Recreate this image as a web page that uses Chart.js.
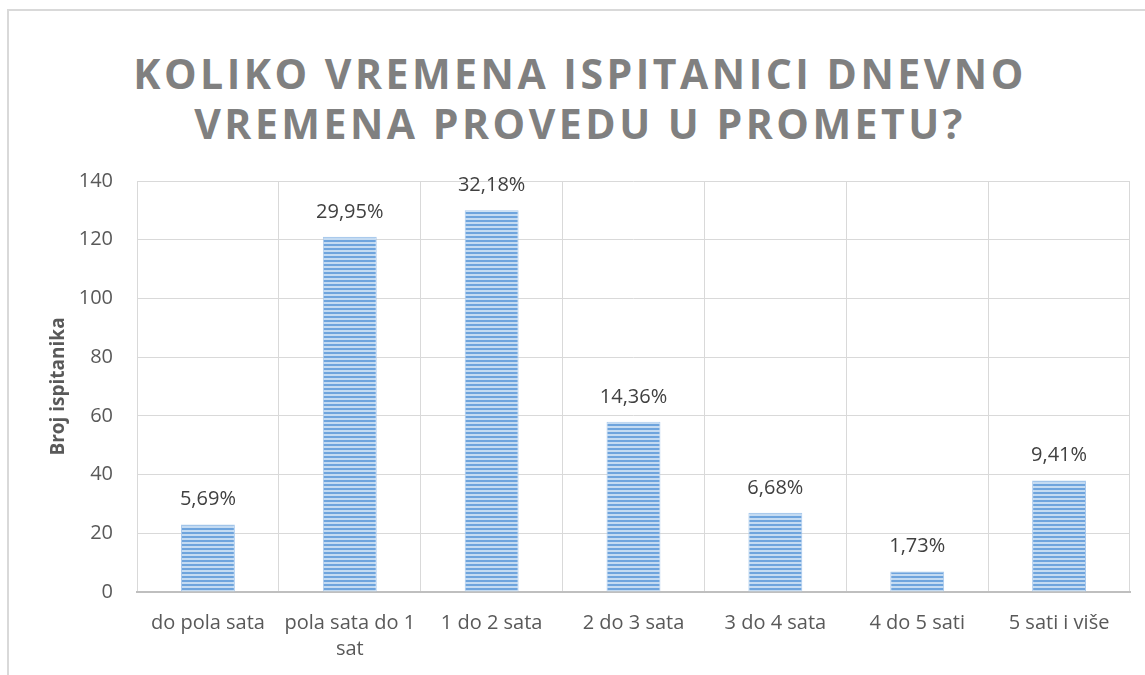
<!DOCTYPE html>
<html lang="hr">
<head>
    <meta charset="UTF-8">
    <title>Koliko vremena ispitanici dnevno vremena provedu u prometu?</title>
    <script src="https://cdn.jsdelivr.net/npm/chart.js@4.4.1/dist/chart.umd.min.js"></script>
    <style>
        html, body { margin: 0; padding: 0; background: #fff; overflow: hidden; }
        .wrap { position: relative; width: 1145px; height: 675px; }
        .frame {
            position: absolute; left: 7px; top: 9px; width: 1200px; height: 700px;
            border: 2px solid #d9d9d9; box-sizing: border-box;
        }
        .chart-title {
            position: absolute; left: 0; top: 48px; width: 1160px; text-align: center;
            font-family: "Open Sans", sans-serif; font-weight: 700; font-size: 41px;
            letter-spacing: 3.5px; line-height: 50px; color: #808080;
        }
        canvas { position: absolute; left: 0; top: 0; }
    </style>
</head>
<body>
<div class="wrap">
    <div class="frame"></div>
    <div class="chart-title">KOLIKO VREMENA ISPITANICI DNEVNO<br>VREMENA PROVEDU U PROMETU?</div>
    <canvas id="chart" width="1145" height="675"></canvas>
</div>
<script>
    // data
    const categories = ['do pola sata', ['pola sata do 1', 'sat'], '1 do 2 sata', '2 do 3 sata', '3 do 4 sata', '4 do 5 sati', '5 sati i više'];
    const respondents = [23, 121, 130, 58, 27, 7, 38];
    const shareLabels = ['5,69%', '29,95%', '32,18%', '14,36%', '6,68%', '1,73%', '9,41%'];
    const yTicks = [0, 20, 40, 60, 80, 100, 120, 140];

    // striped fill like the office chart
    function stripePattern() {
        const c = document.createElement('canvas');
        c.width = 8; c.height = 4;
        const g = c.getContext('2d');
        g.fillStyle = '#c4dbf2';
        g.fillRect(0, 0, 8, 4);
        g.fillStyle = '#6ea4dd';
        g.fillRect(0, 0, 8, 2);
        return g.createPattern(c, 'repeat');
    }

    const valueLabels = {
        id: 'valueLabels',
        afterDatasetsDraw(chart) {
            const ctx = chart.ctx;
            const meta = chart.getDatasetMeta(0);
            ctx.save();
            ctx.font = '20px "Open Sans", sans-serif';
            ctx.fillStyle = '#404040';
            ctx.textAlign = 'center';
            ctx.textBaseline = 'alphabetic';
            meta.data.forEach((bar, i) => {
                ctx.fillText(shareLabels[i], bar.x, bar.y - 19);
            });
            ctx.restore();
        }
    };

    Chart.defaults.font.family = '"Open Sans", sans-serif';
    Chart.defaults.color = '#595959';

    new Chart(document.getElementById('chart'), {
        type: 'bar',
        data: {
            labels: categories,
            datasets: [{
                data: respondents,
                backgroundColor: stripePattern(),
                borderColor: '#a9c9ec',
                borderWidth: 1,
                categoryPercentage: 1,
                barPercentage: 0.38
            }]
        },
        options: {
            responsive: false,
            animation: false,
            layout: { padding: { top: 181, right: 15, left: 43, bottom: 0 } },
            plugins: {
                legend: { display: false },
                tooltip: { enabled: false }
            },
            scales: {
                x: {
                    afterFit(axis) { axis.height = 83; },
                    grid: { color: '#d9d9d9', lineWidth: 1, drawTicks: false },
                    border: { color: '#bfbfbf', width: 2 },
                    ticks: { font: { size: 20, lineHeight: 1.3 }, padding: 18, maxRotation: 0 }
                },
                y: {
                    min: 0,
                    max: 140,
                    afterBuildTicks(axis) { axis.ticks = yTicks.map(v => ({ value: v })); },
                    afterFit(axis) { axis.width = 94; },
                    grid: { color: '#d9d9d9', lineWidth: 1, drawTicks: false },
                    border: { display: false },
                    ticks: { font: { size: 20 }, padding: 24 },
                    title: {
                        display: true,
                        text: 'Broj ispitanika',
                        color: '#595959',
                        font: { size: 19, weight: 'bold' },
                        padding: { bottom: 0 }
                    }
                }
            }
        },
        plugins: [valueLabels]
    });
</script>
</body>
</html>
